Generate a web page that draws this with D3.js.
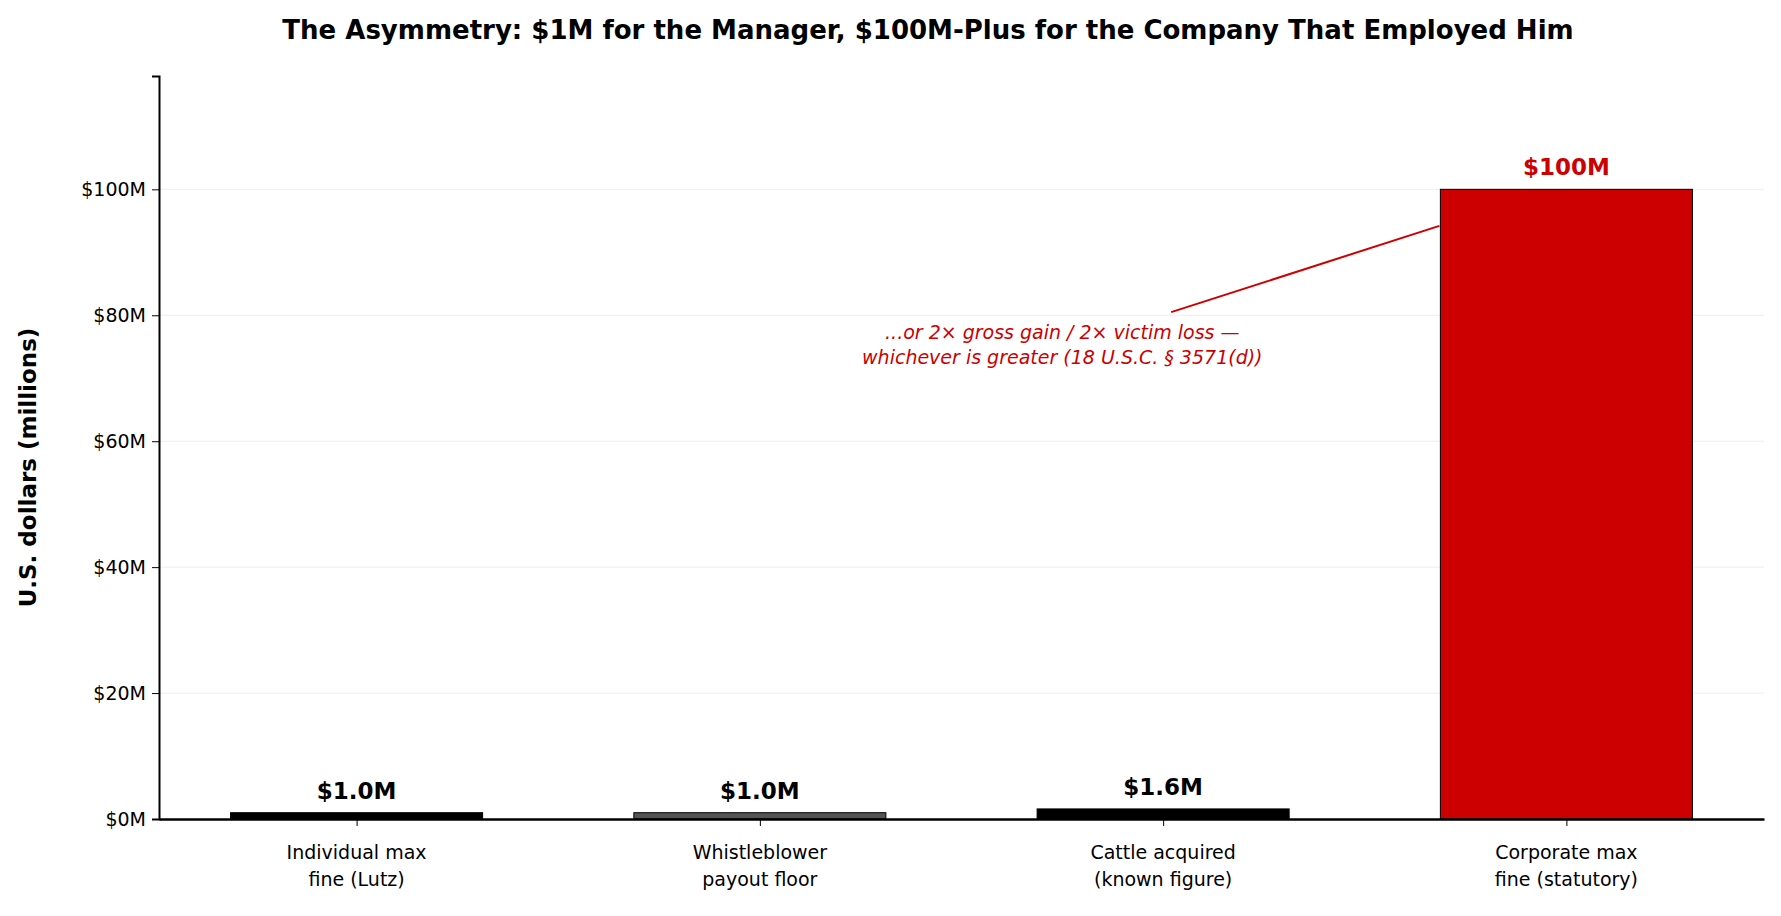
<!DOCTYPE html>
<html><head><meta charset="utf-8">
<script src="https://cdn.jsdelivr.net/npm/d3@7"></script>
<style>body{margin:0;background:#fff;font-family:"DejaVu Sans",sans-serif}</style>
</head><body><svg id="chart" width="1781" height="916"></svg>
<script>
const categories = ['Individual max\nfine (Lutz)', 'Whistleblower\npayout floor', 'Cattle acquired\n(known figure)', 'Corporate max\nfine (statutory)']
const values = [1.0, 1.0, 1.6, 100]
const valueLabels = ['$1.0M', '$1.0M', '$1.6M', '$100M']
const barColors = ['#000000', '#555555', '#000000', '#cc0000']
const yTicks = [0, 20, 40, 60, 80, 100]

const margin = {top: 76, right: 17, bottom: 97, left: 159}
const width = 1781, height = 916
const svg = d3.select('#chart')

const x = d3.scaleLinear().domain([-0.49, 3.49]).range([margin.left, width - margin.right])
const y = d3.scaleLinear().domain([0, 118]).range([height - margin.bottom, margin.top])
const barW = x(0.625) - x(0)

// grid
svg.append('g').selectAll('line').data(yTicks.slice(1)).enter().append('line')
    .attr('x1', margin.left).attr('x2', width - margin.right)
    .attr('y1', d => y(d)).attr('y2', d => y(d))
    .attr('stroke', '#eee').attr('stroke-width', 1)

svg.append('g').selectAll('rect').data(values).enter().append('rect')
    .attr('x', (d, i) => x(i) - barW / 2)
    .attr('y', d => y(d))
    .attr('width', barW)
    .attr('height', d => y(0) - y(d))
    .attr('fill', (d, i) => barColors[i])
    .attr('stroke', '#000').attr('stroke-width', 1)

svg.append('g').selectAll('text').data(values).enter().append('text')
    .attr('x', (d, i) => x(i))
    .attr('y', d => y(d) - 14)
    .attr('text-anchor', 'middle')
    .attr('font-size', 23).attr('font-weight', 'bold')
    .attr('fill', (d, i) => i === 3 ? '#cc0000' : '#000')
    .text((d, i) => valueLabels[i])

// axes
const yAxis = d3.axisLeft(y).tickValues(yTicks).tickFormat(d => `$${d}M`).tickSize(7).tickPadding(6)
const gy = svg.append('g').attr('transform', `translate(${margin.left},0)`).call(yAxis)
gy.select('.domain').attr('stroke-width', 2)
gy.selectAll('text').attr('font-size', 19).attr('font-family', 'DejaVu Sans').attr('fill', '#000')

const xAxis = d3.axisBottom(x).tickValues([0, 1, 2, 3]).tickFormat('').tickSize(7).tickSizeOuter(0)
const gx = svg.append('g').attr('transform', `translate(0,${y(0)})`).call(xAxis)
gx.select('.domain').attr('stroke-width', 2.5)
categories.forEach((c, i) => {
    const t = svg.append('text').attr('text-anchor', 'middle').attr('font-size', 19)
    c.split('\n').forEach((line, j) => {
        t.append('tspan').attr('x', x(i)).attr('y', y(0) + 40 + j * 27).text(line)
    })
})

// annotation
svg.append('line')
    .attr('x1', x(3) - barW / 2 - 1).attr('y1', y(94.2))
    .attr('x2', x(2.02)).attr('y2', y(80.5))
    .attr('stroke', '#cc0000').attr('stroke-width', 2)
const ann = svg.append('text').attr('text-anchor', 'middle').attr('font-size', 19)
    .attr('font-style', 'italic').attr('fill', '#cc0000')
;['...or 2× gross gain / 2× victim loss —', 'whichever is greater (18 U.S.C. § 3571(d))'].forEach((l, j) => {
    ann.append('tspan').attr('x', x(1.75)).attr('y', y(76.3) + j * 25).text(l)
})

svg.append('text').attr('transform', `translate(36,${(margin.top + y(0)) / 2 + 20}) rotate(-90)`)
    .attr('text-anchor', 'middle').attr('font-size', 23).attr('font-weight', 'bold')
    .text('U.S. dollars (millions)')

svg.append('text').attr('x', 928).attr('y', 39).attr('text-anchor', 'middle')
    .attr('font-size', 26).attr('font-weight', 'bold')
    .text('The Asymmetry: $1M for the Manager, $100M-Plus for the Company That Employed Him')
</script></body></html>
